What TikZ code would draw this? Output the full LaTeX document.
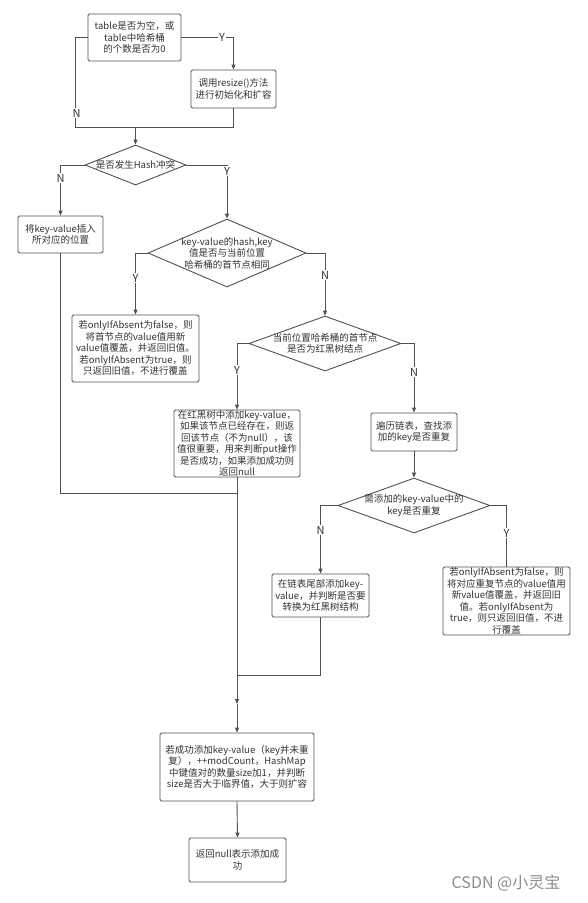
\documentclass[tikz,border=0pt]{standalone}
\usepackage{fontspec}
\setmainfont{Noto Sans CJK SC}
\usetikzlibrary{shapes.geometric,arrows.meta}
\definecolor{linec}{HTML}{505050}
\definecolor{txtc}{HTML}{333333}
\tikzset{
  base/.style={font=\fontsize{9.5}{11.5}\selectfont, text=txtc, align=center, inner sep=0pt},
  box/.style={base, draw=linec, line width=0.9pt, rounded corners=1.5pt, fill=white},
  dia/.style={diamond, draw=linec, line width=0.9pt, inner sep=0pt, fill=white},
  dtext/.style={base},
  conn/.style={draw=linec, line width=0.9pt},
  arr/.style={conn, -{Triangle[length=5pt,width=4pt]}},
  lab/.style={font=\fontsize{11}{12}\selectfont, text=txtc, fill=white, inner sep=1pt},
}
\begin{document}
\begin{tikzpicture}[x=1pt,y=-1pt]
\useasboundingbox (0,0) rectangle (587,903);
% boxes
\node[box, minimum width=93pt, minimum height=47pt] (b1) at (134.5,37.5) {table是否为空，或\\table中哈希桶\\的个数是否为0};
\node[box, minimum width=85pt, minimum height=38pt] (b2) at (233.5,89) {调用resize()方法\\进行初始化和扩容};
\node[dia, minimum width=101pt, minimum height=40pt] (d1) at (135.5,165) {};
\node[dtext] (d1t) at (d1) {是否发生Hash冲突};
\node[box, minimum width=85pt, minimum height=37pt] (b3) at (60.5,234.5) {将key-value插入\\所对应的位置};
\node[dia, minimum width=158pt, minimum height=68pt] (d2) at (227,253) {};
\node[dtext] (d2t) at (d2) {key-value的hash,key\\值是否与当前位置\\哈希桶的首节点相同};
\node[box, minimum width=127pt, minimum height=67pt] (b4) at (135.5,348.5) {若onlyIfAbsent为false，则\\将首节点的value值用新\\value值覆盖，并返回旧值。\\若onlyIfAbsent为true，则\\只返回旧值，不进行覆盖};
\node[dia, minimum width=152pt, minimum height=55pt] (d3) at (325,343.5) {};
\node[dtext] (d3t) at (d3) {当前位置哈希桶的首节点\\是否为红黑树结点};
\node[box, minimum width=126pt, minimum height=67pt] (b5) at (237,443.5) {在红黑树中添加key-value，\\如果该节点已经存在，则返\\回该节点（不为null），该\\值很重要，用来判断put操作\\是否成功，如果添加成功则\\返回null};
\node[box, minimum width=86pt, minimum height=38pt] (b6) at (414,432) {遍历链表，查找添\\加的key是否重复};
\node[dia, minimum width=152pt, minimum height=55pt] (d4) at (414,505.5) {};
\node[dtext] (d4t) at (d4) {需添加的key-value中的\\key是否重复};
\node[box, minimum width=97pt, minimum height=43pt] (b7) at (320.5,595.5) {在链表尾部添加key-\\value，并判断是否要\\转换为红黑树结构};
\node[box, minimum width=127pt, minimum height=68pt] (b8) at (506.5,601) {若onlyIfAbsent为false，则\\将对应重复节点的value值用\\新value值覆盖，并返回旧\\值。若onlyIfAbsent为\\true，则只返回旧值，不进\\行覆盖};
\node[box, minimum width=154pt, minimum height=68pt] (b9) at (237,767) {若成功添加key-value（key并未重\\复），++modCount，HashMap\\中键值对的数量size加1，并判断\\size是否大于临界值，大于则扩容};
\node[box, minimum width=97pt, minimum height=44pt] (b10) at (237.5,860) {返回null表示添加成\\功};
\node[font=\fontsize{16}{18}\selectfont, text=black!45] (wm) at (506,883) {CSDN @小灵宝};
% merge points
\coordinate (m1) at (135.5,127);
\coordinate (m2) at (237,493);
\coordinate (m3) at (237,704);
\coordinate (m4) at (237,675);
% connectors
\draw[arr] (b1.east) -| (b2.north);
\draw[conn] (b1.west) -- ++(-12,0) |- (m1);
\draw[conn] (b2.south) |- (m1);
\draw[arr] (m1) -- (d1.north);
\draw[arr] (d1.west) -| (b3.north);
\draw[arr] (d1.east) -| (d2.north);
\draw[arr] (d2.west) -| (b4.north);
\draw[arr] (d2.east) -| (d3.north);
\draw[arr] (d3.west) -| (b5.north);
\draw[arr] (d3.east) -| (b6.north);
\draw[arr] (b6.south) -- (d4.north);
\draw[arr] (d4.west) -| (b7.north);
\draw[conn] (d4.east) -| (b8.north);
\draw[conn] (b3.south) |- (m2);
\draw[conn] (b7.south) |- (m4);
\draw[arr] (b5.south) -- (m3);
\draw[arr] (m3) -- (b9.north);
\draw[arr] (b9.south) -- (b10.north);
% labels
\node[lab] (lY1) at (222,37.5) {Y};
\node[lab] (lN1) at (76.5,113) {N};
\node[lab] (lN2) at (60.5,178) {N};
\node[lab] (lY2) at (227,171) {Y};
\node[lab] (lY3) at (135.5,278) {Y};
\node[lab] (lN3) at (325,275) {N};
\node[lab] (lY4) at (237,370) {Y};
\node[lab] (lN4) at (414,372) {N};
\node[lab] (lN5) at (320.5,530) {N};
\node[lab] (lY5) at (506.5,533) {Y};
\end{tikzpicture}
\end{document}
